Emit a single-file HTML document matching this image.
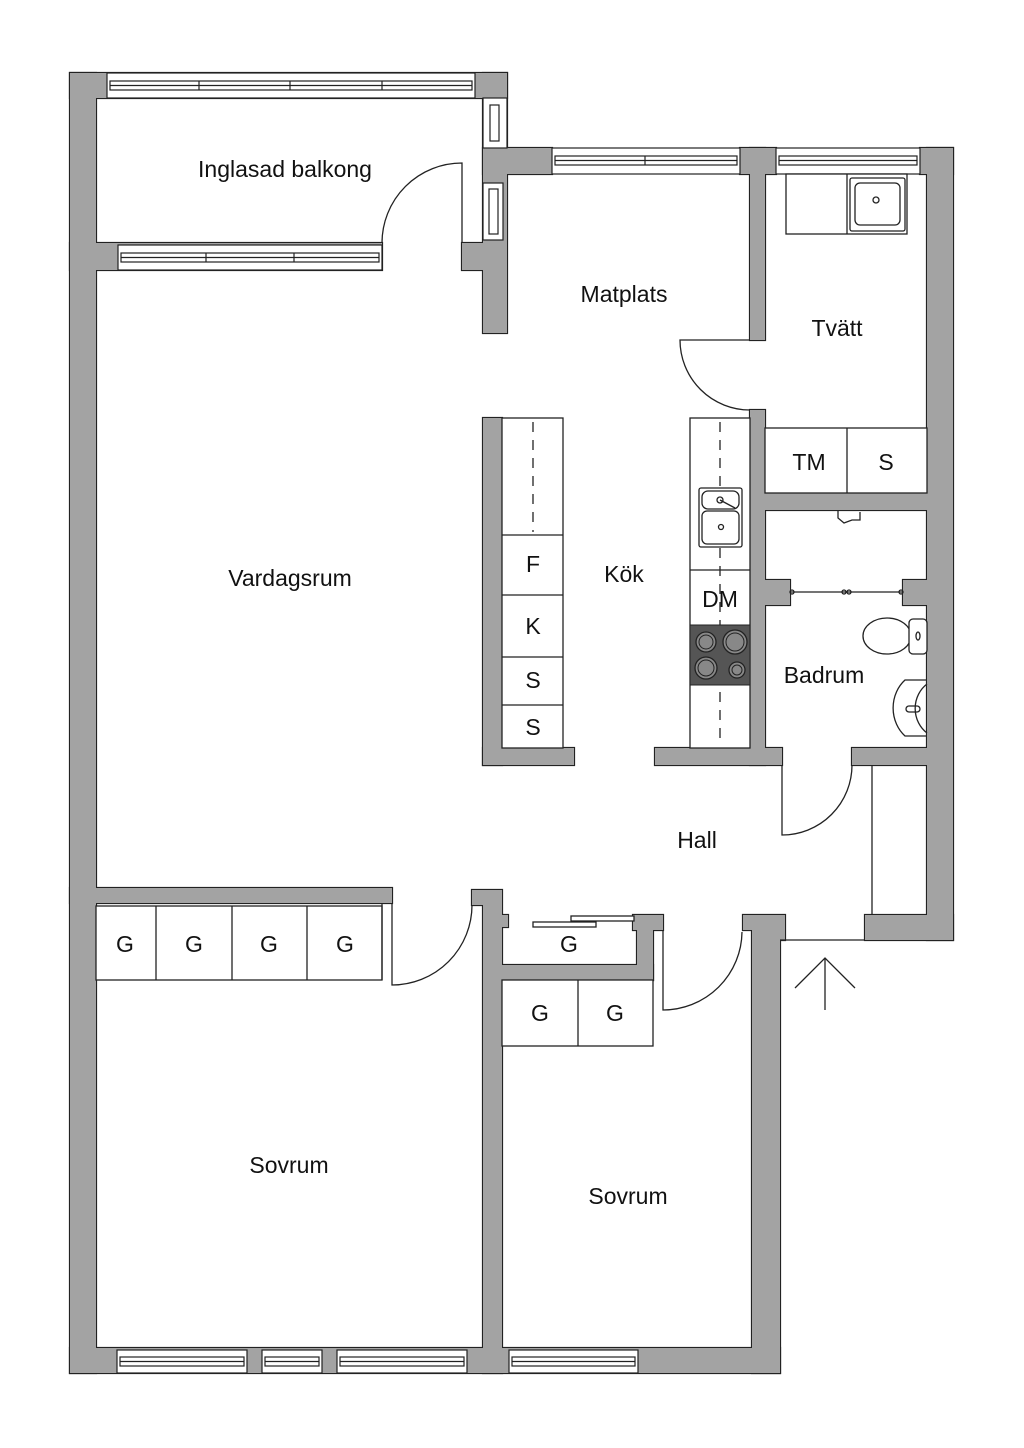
<!DOCTYPE html>
<html><head><meta charset="utf-8"><style>
html,body{margin:0;padding:0;background:#fff;}
svg{display:block;}
text{font-family:"Liberation Sans",sans-serif;fill:#111;}
</style></head><body>
<svg width="1024" height="1448" viewBox="0 0 1024 1448" xmlns="http://www.w3.org/2000/svg">
<defs>
<g id="walls">
<rect x="70" y="73" width="26" height="1300"/>
<rect x="70" y="73" width="437" height="25"/>
<rect x="483" y="73" width="24" height="260"/>
<rect x="483" y="148" width="69" height="26"/>
<rect x="70" y="243" width="312" height="27"/>
<rect x="462" y="243" width="41" height="27"/>
<rect x="740" y="148" width="36" height="26"/>
<rect x="920" y="148" width="33" height="26"/>
<rect x="750" y="148" width="15" height="192"/>
<rect x="750" y="410" width="15" height="355"/>
<rect x="927" y="148" width="26" height="792"/>
<rect x="765" y="493" width="162" height="17"/>
<rect x="765" y="580" width="25" height="25"/>
<rect x="903" y="580" width="24" height="25"/>
<rect x="483" y="418" width="19" height="347"/>
<rect x="483" y="748" width="91" height="17"/>
<rect x="655" y="748" width="127" height="17"/>
<rect x="852" y="748" width="75" height="17"/>
<rect x="865" y="915" width="88" height="25"/>
<rect x="70" y="888" width="322" height="15"/>
<polygon points="472,890 502,890 502,1373 483,1373 483,905 472,905"/>
<rect x="502" y="915" width="6" height="12"/>
<rect x="502" y="965" width="151" height="15"/>
<polygon points="633,915 663,915 663,930 653,930 653,980 637,980 637,930 633,930"/>
<polygon points="743,915 785,915 785,940 780,940 780,1373 752,1373 752,930 743,930"/>
<rect x="70" y="1348" width="710" height="25"/>
</g>
</defs>
<use href="#walls" fill="#a3a3a3" stroke="#222" stroke-width="2.2"/>
<use href="#walls" fill="#a3a3a3" stroke="none"/>
<!-- windows -->
<g fill="#fff" stroke="#222" stroke-width="1.2">
<rect x="107" y="73" width="368" height="25"/>
<rect x="110" y="81" width="362" height="9"/>
<line x1="110" y1="85.5" x2="472" y2="85.5"/>
<line x1="199" y1="81" x2="199" y2="90"/><line x1="290" y1="81" x2="290" y2="90"/><line x1="382" y1="81" x2="382" y2="90"/>
<rect x="118" y="245" width="264" height="25"/>
<rect x="121" y="253" width="258" height="9"/>
<line x1="121" y1="257.5" x2="379" y2="257.5"/>
<line x1="206" y1="253" x2="206" y2="262"/><line x1="294" y1="253" x2="294" y2="262"/>
<rect x="483" y="98" width="24" height="50"/>
<rect x="490" y="105" width="9" height="36"/>
<rect x="483" y="183" width="20" height="57"/>
<rect x="489" y="189" width="9" height="45"/>
<rect x="552" y="148" width="188" height="26"/>
<rect x="555" y="156" width="182" height="9"/><line x1="555" y1="160.5" x2="737" y2="160.5"/>
<line x1="645" y1="156" x2="645" y2="165"/>
<rect x="776" y="148" width="144" height="26"/>
<rect x="779" y="156" width="138" height="9"/><line x1="779" y1="160.5" x2="917" y2="160.5"/>
<rect x="117" y="1350" width="130" height="23"/><rect x="120" y="1357" width="124" height="9"/><line x1="120" y1="1361.5" x2="244" y2="1361.5"/>
<rect x="262" y="1350" width="60" height="23"/><rect x="265" y="1357" width="54" height="9"/><line x1="265" y1="1361.5" x2="319" y2="1361.5"/>
<rect x="337" y="1350" width="130" height="23"/><rect x="340" y="1357" width="124" height="9"/><line x1="340" y1="1361.5" x2="464" y2="1361.5"/>
<rect x="509" y="1350" width="129" height="23"/><rect x="512" y="1357" width="123" height="9"/><line x1="512" y1="1361.5" x2="635" y2="1361.5"/>
</g>
<g fill="none" stroke="#222" stroke-width="1.3">
<line x1="780" y1="940" x2="865" y2="940"/>
<path d="M382 243 A80 80 0 0 1 462 163 L462 243"/>
<path d="M750 340 L680 340 A70 70 0 0 0 750 410"/>
<path d="M782 765 L782 835 A70 70 0 0 0 852 765"/>
<path d="M392 903 L392 985 A80 80 0 0 0 472 905"/>
<path d="M663 930 L663 1010 A79 79 0 0 0 742 932"/>
<line x1="872" y1="765" x2="872" y2="915"/>
<rect x="786" y="174" width="121" height="60" fill="#fff"/>
<line x1="847" y1="174" x2="847" y2="234"/>
<rect x="850" y="178" width="55" height="53" rx="2"/>
<rect x="855" y="183" width="45" height="42" rx="5"/>
<circle cx="876" cy="200" r="3"/>
<rect x="765" y="428" width="162" height="65" fill="#fff"/>
<line x1="847" y1="428" x2="847" y2="493"/>
<rect x="502" y="418" width="61" height="330" fill="#fff"/>
<line x1="502" y1="535" x2="563" y2="535"/>
<line x1="502" y1="595" x2="563" y2="595"/>
<line x1="502" y1="657" x2="563" y2="657"/>
<line x1="502" y1="705" x2="563" y2="705"/>
<line x1="533" y1="422" x2="533" y2="532" stroke-dasharray="10,8"/>
<rect x="690" y="418" width="60" height="330" fill="#fff"/>
<line x1="690" y1="570" x2="750" y2="570"/>
<line x1="720" y1="422" x2="720" y2="745" stroke-dasharray="10,8"/>
<rect x="699" y="488" width="43" height="59" rx="2" fill="#fff"/>
<rect x="702" y="491" width="37" height="18" rx="6"/>
<rect x="702" y="511" width="37" height="33" rx="5"/>
<circle cx="720" cy="500" r="3"/><line x1="720" y1="500" x2="735" y2="508"/>
<circle cx="721" cy="527" r="2.5"/>
<line x1="790" y1="592" x2="903" y2="592"/>
<circle cx="792" cy="592" r="2"/><circle cx="901" cy="592" r="2"/><circle cx="844" cy="592" r="2"/><circle cx="849" cy="592" r="2"/>
<path d="M838 510 l0 8 l6 5 l8 -3 l8 0 l0 -8"/>
<ellipse cx="887" cy="636" rx="24" ry="18"/>
<rect x="909" y="619" width="18" height="35" rx="4" fill="#fff"/>
<ellipse cx="918" cy="636" rx="2" ry="4"/>
<path d="M927 680 L905 680 A32 36 0 0 0 905 736 L927 736"/>
<path d="M927 684 A28 30 0 0 0 927 733"/>
<rect x="906" y="706" width="14" height="6" rx="3"/>
<rect x="96" y="906" width="286" height="74" fill="#fff"/>
<line x1="156" y1="906" x2="156" y2="980"/>
<line x1="232" y1="906" x2="232" y2="980"/>
<line x1="307" y1="906" x2="307" y2="980"/>
<line x1="382" y1="903" x2="382" y2="980"/>
<rect x="533" y="922" width="63" height="5" fill="#fff"/>
<rect x="571" y="916" width="63" height="5" fill="#fff"/>
<rect x="502" y="980" width="151" height="66" fill="#fff"/>
<line x1="578" y1="980" x2="578" y2="1046"/>
<line x1="825" y1="958" x2="825" y2="1010"/>
<polyline points="795,988 825,958 855,988"/>
</g>
<rect x="690" y="625" width="60" height="60" fill="#555" stroke="#222"/>
<g stroke="#222" stroke-width="1.3" fill="#888">
<circle cx="706" cy="642" r="10"/><circle cx="735" cy="642" r="12"/>
<circle cx="706" cy="668" r="11"/><circle cx="737" cy="670" r="8"/>
</g>
<g fill="none" stroke="#222" stroke-width="1"><circle cx="706" cy="642" r="7"/><circle cx="735" cy="642" r="9"/><circle cx="706" cy="668" r="8"/><circle cx="737" cy="670" r="5"/></g>
<g font-size="23" text-anchor="middle">
<text x="285" y="177">Inglasad balkong</text>
<text x="624" y="302">Matplats</text>
<text x="837" y="336">Tvätt</text>
<text x="809" y="470">TM</text>
<text x="886" y="470">S</text>
<text x="290" y="586">Vardagsrum</text>
<text x="624" y="582">Kök</text>
<text x="533" y="572">F</text>
<text x="533" y="634">K</text>
<text x="533" y="688">S</text>
<text x="533" y="735">S</text>
<text x="720" y="607">DM</text>
<text x="824" y="683">Badrum</text>
<text x="697" y="848">Hall</text>
<text x="125" y="952">G</text><text x="194" y="952">G</text><text x="269" y="952">G</text><text x="345" y="952">G</text>
<text x="569" y="952">G</text>
<text x="540" y="1021">G</text><text x="615" y="1021">G</text>
<text x="289" y="1173">Sovrum</text>
<text x="628" y="1204">Sovrum</text>
</g>
</svg>
</body></html>
